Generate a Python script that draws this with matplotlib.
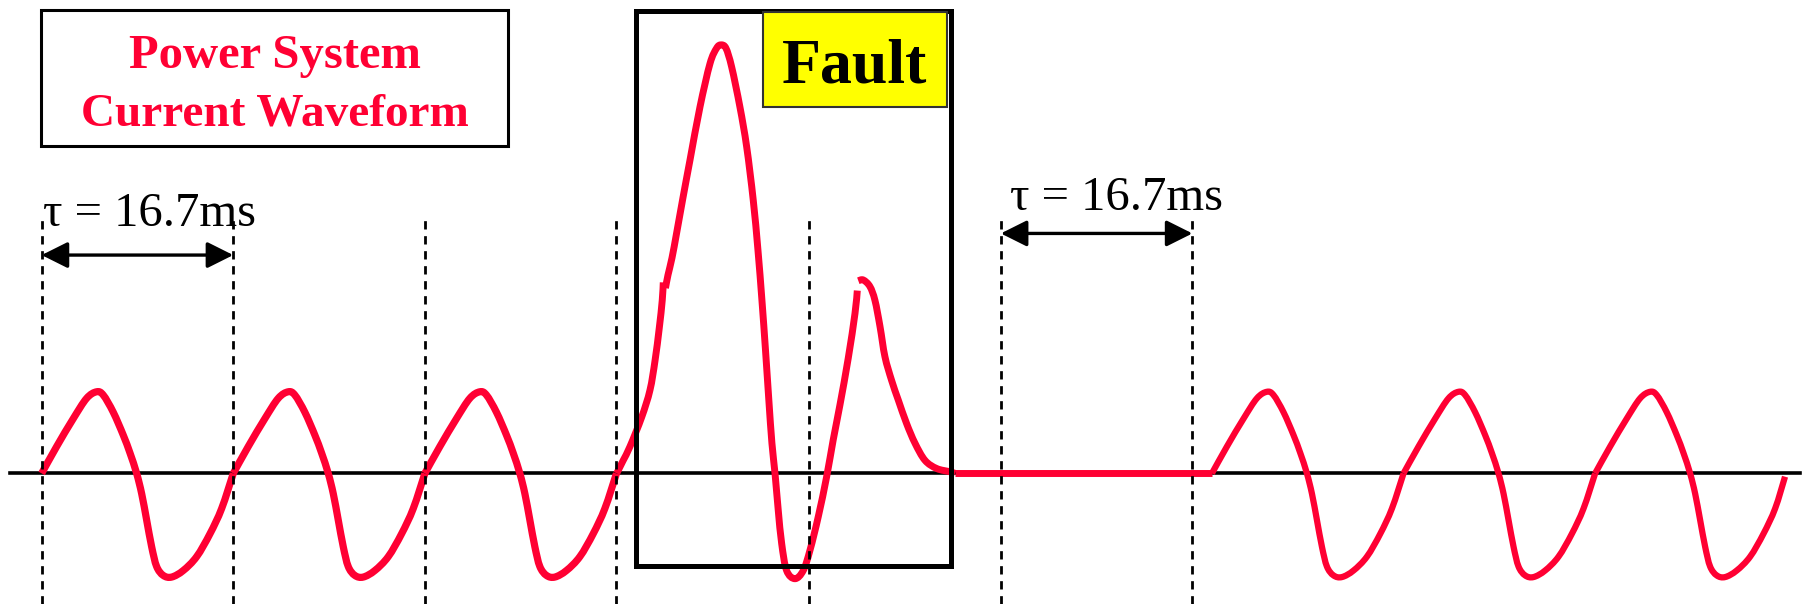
import numpy as np
import matplotlib.pyplot as plt
from matplotlib.patches import Rectangle, PathPatch
from matplotlib.path import Path

# one normal cycle (time in ms, current in per unit)
cycle_t = [0, 1.31, 2.75, 3.92, 4.79, 5.37, 6.24, 7.11, 7.70, 8.28, 8.72,
           9.15, 9.59, 10.02, 10.60, 11.33, 12.34, 13.51, 14.67, 15.69, 16.7]
cycle_i = [0, 0.33, 0.67, 0.92, 1.0, 0.96, 0.75, 0.47, 0.25, 0, -0.25,
           -0.57, -0.90, -1.14, -1.25, -1.27, -1.19, -1.02, -0.74, -0.43, 0]

pre_starts = [0, 16.7, 33.4]
post_starts = [102.0, 118.7, 135.4]
last_end = (16.55, -0.04)   # last cycle is cut just before the zero

# fault current, three drawn pieces
fault1_t = [50.12, 50.69, 51.28, 52.30, 53.02, 53.46, 53.83, 54.09, 54.18]
fault1_i = [0, 0.16, 0.33, 0.69, 1.02, 1.38, 1.78, 2.12, 2.34]

fault2_t = [54.37, 54.59, 54.94, 55.35, 55.90, 56.51, 57.38, 58.25, 58.83, 59.21,
            59.64, 60.14, 60.86, 61.45, 62.02, 62.43, 62.78, 63.09, 63.38, 63.65,
            63.92, 64.20, 64.50, 64.93, 65.66, 66.38, 66.97, 67.69, 68.42, 68.99,
            69.58, 70.30, 70.89, 71.09]
fault2_i = [2.27, 2.43, 2.64, 2.95, 3.38, 3.84, 4.49, 5.02, 5.21, 5.25,
            5.21, 4.98, 4.49, 4.00, 3.35, 2.74, 2.12, 1.51, 0.90, 0.37,
            0, -0.45, -0.86, -1.19, -1.29, -1.19, -0.94, -0.53, -0.04, 0.41,
            0.84, 1.41, 1.96, 2.24]

fault3_t = [71.18, 71.61, 72.19, 72.63, 73.07, 73.50, 74.08, 74.66, 75.39,
            76.12, 76.99, 78.01, 79.17, 79.61]
fault3_i = [2.36, 2.37, 2.29, 2.12, 1.80, 1.43, 1.14, 0.90, 0.61,
            0.37, 0.16, 0.06, 0.02, 0]

flat_t = [79.61, 102.0]
flat_i = [0, 0]

dash_t = [0, 16.7, 33.4, 50.1, 66.9, 83.6, 100.3]

red = '#ff0033'


def smooth(t, i, lw):
    # bezier through the read points (catmull-rom style handles)
    p = np.column_stack([t, i]).astype(float)
    verts = [p[0]]
    codes = [Path.MOVETO]
    for k in range(len(p) - 1):
        p0 = p[max(k - 1, 0)]
        p1, p2 = p[k], p[k + 1]
        p3 = p[min(k + 2, len(p) - 1)]
        verts += [p1 + (p2 - p0) / 6, p2 - (p3 - p1) / 6, p2]
        codes += [Path.CURVE4] * 3
    return PathPatch(Path(verts, codes), fill=False, ec=red, lw=lw,
                     joinstyle='round', capstyle='butt', zorder=2)


fig = plt.figure(figsize=(18.02, 6.04), dpi=100)
ax = fig.add_axes([0, 0, 1, 1])
ax.axis('off')
ax.set_xlim(-3.63, 153.43)
ax.set_ylim(-1.60, 5.80)

# time axis
ax.plot([-2.77, 153.25], [0, 0], color='black', lw=2.6, zorder=1)

# normal cycles
ct = np.array(cycle_t)
ci = np.array(cycle_i)
for s in pre_starts:
    ax.add_patch(smooth(s + ct, ci, 5.2))
for k, s in enumerate(post_starts):
    t, i = ct, ci
    if k == len(post_starts) - 1:
        t = np.append(ct[:-1], last_end[0])
        i = np.append(ci[:-1], last_end[1])
    ax.add_patch(smooth(s + t, i, 4.5))

# fault
for ft, fi in [(fault1_t, fault1_i), (fault2_t, fault2_i), (fault3_t, fault3_i)]:
    ax.add_patch(smooth(ft, fi, 5.0))
ax.plot(flat_t, flat_i, color=red, lw=5.0, solid_capstyle='butt', zorder=2)

# dashed period markers
ax.vlines(dash_t, -1.6, 3.15, colors='black', lw=2.0,
          linestyles=(0, (3.0, 2.4)), zorder=3)

# period arrows and labels
arrow = dict(arrowstyle='<|-|>,head_length=0.4,head_width=0.2', color='black',
             lw=2.4, mutation_scale=40, shrinkA=0, shrinkB=0)
ax.annotate('', xy=(16.7, 2.675), xytext=(0, 2.675), arrowprops=arrow, zorder=4)
ax.annotate('', xy=(100.3, 2.94), xytext=(83.6, 2.94), arrowprops=arrow, zorder=4)
ax.text(0.11, 3.03, 'τ = 16.7ms', family='Liberation Serif', fontsize=35,
        va='baseline', ha='left')
ax.text(84.4, 3.23, 'τ = 16.7ms', family='Liberation Serif', fontsize=35,
        va='baseline', ha='left')

# title box
ax.add_patch(Rectangle((0.0230, 0.7583), 0.2589, 0.2252, transform=fig.transFigure,
                       fill=False, ec='black', lw=2.2, clip_on=False, zorder=4))
fig.text(0.1526, 0.8874, 'Power System', family='Liberation Serif', weight='bold',
         fontsize=35, color=red, ha='center', va='baseline')
fig.text(0.1526, 0.7930, 'Current Waveform', family='Liberation Serif', weight='bold',
         fontsize=34, color=red, ha='center', va='baseline')

# fault window
ax.add_patch(Rectangle((0.3527, 0.0621), 0.1748, 0.9190, transform=fig.transFigure,
                       fill=False, ec='black', lw=3.6, clip_on=False, zorder=5))
ax.add_patch(Rectangle((0.4234, 0.8228), 0.1021, 0.1573, transform=fig.transFigure,
                       fc='#ffff00', ec='#333333', lw=1.5, clip_on=False, zorder=5))
fig.text(0.4745, 0.8626, 'Fault', family='Liberation Serif', weight='bold',
         fontsize=46, color='black', ha='center', va='baseline', zorder=6)

fig.savefig('out.png', dpi=100)
